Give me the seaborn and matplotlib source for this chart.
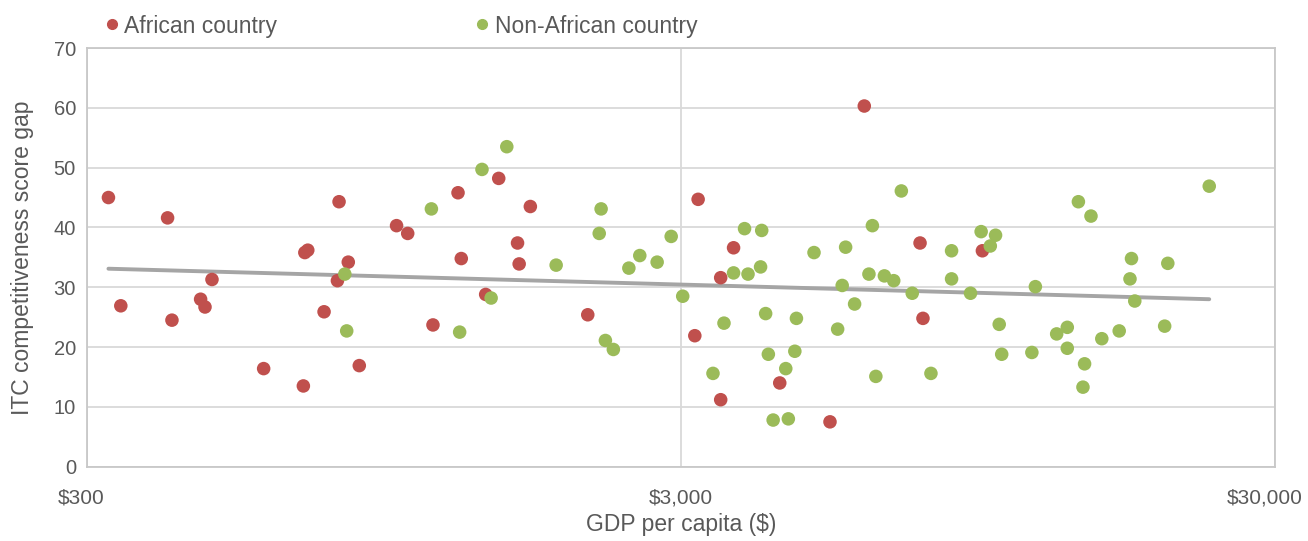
import matplotlib
matplotlib.use("Agg")
import matplotlib.pyplot as plt
from matplotlib.lines import Line2D
from matplotlib.ticker import NullLocator
from matplotlib.transforms import ScaledTranslation
import seaborn as sns
import pandas as pd

# African countries: GDP per capita ($) and ITC competitiveness score gap
africa_gdp = [326, 342, 410, 417, 466, 474, 487, 595, 694, 698, 706, 752, 792, 797,
              826, 862, 996, 1040, 1147, 1264, 1280, 1407, 1480, 1592, 1602, 1673,
              2090, 3165, 3206, 3499, 3499, 3678, 4399, 5345, 6105, 7578, 7664, 9650]
africa_gap = [45.0, 26.9, 41.6, 24.5, 28.0, 26.7, 31.3, 16.4, 13.5, 35.8, 36.2, 25.9, 31.1, 44.3,
              34.2, 16.9, 40.3, 39.0, 23.7, 45.8, 34.8, 28.8, 48.2, 37.4, 33.9, 43.5,
              25.4, 21.9, 44.7, 31.6, 11.2, 36.6, 14.0, 7.5, 60.3, 37.4, 24.8, 36.1]

# Non-African countries
other_gdp = [815, 821, 1140, 1272, 1387, 1437, 1527, 1849, 2185, 2201, 2238, 2308, 2451,
             2557, 2735, 2888, 3020, 3396, 3544, 3678, 3838, 3890, 4084, 4102, 4165, 4209,
             4288, 4503, 4548, 4664, 4693, 5024, 5506, 5604, 5679, 5880, 6216, 6300, 6385,
             6600, 6843, 7048, 7352, 7905, 8563, 8563, 9216, 9603, 9950, 10155, 10300,
             10400, 11690, 11850, 12870, 13410, 13410, 14000, 14250, 14340, 14700, 15330,
             16400, 17100, 17200, 17420, 19560, 19800, 23250]
other_gap = [32.2, 22.7, 43.1, 22.5, 49.7, 28.2, 53.5, 33.7, 39.0, 43.1, 21.1, 19.6, 33.2,
             35.3, 34.2, 38.5, 28.5, 15.6, 24.0, 32.4, 39.8, 32.2, 33.4, 39.5, 25.6, 18.8,
             7.8, 16.4, 8.0, 19.3, 24.8, 35.8, 23.0, 30.3, 36.7, 27.2, 32.2, 40.3, 15.1,
             31.9, 31.1, 46.1, 29.0, 15.6, 36.1, 31.4, 29.0, 39.3, 36.9, 38.7, 23.8,
             18.8, 19.1, 30.1, 22.2, 23.3, 19.8, 44.3, 13.3, 17.2, 41.9, 21.4,
             22.7, 31.4, 34.8, 27.7, 23.5, 34.0, 46.9]

# trend line (log fit) end points
trend_gdp = [326, 23250]
trend_gap = [33.1, 28.0]

groups = ["African country", "Non-African country"]
colors = {"African country": "#C0504D", "Non-African country": "#9BBB59"}
x_ticks = [300, 3000, 30000]
x_ticklabels = ["$300", "$3,000", "$30,000"]

df = pd.concat([
    pd.DataFrame({"gdp": africa_gdp, "gap": africa_gap, "group": groups[0]}),
    pd.DataFrame({"gdp": other_gdp, "gap": other_gap, "group": groups[1]}),
], ignore_index=True)

sns.set_theme(style="white")
plt.rcParams["font.family"] = ["Liberation Sans", "DejaVu Sans"]
txt = "#595959"

fig = plt.figure(figsize=(13.08, 5.41), dpi=100)
ax = fig.add_axes([87 / 1308, 1 - 466.7 / 541, (1275 - 87) / 1308, (466.7 - 48) / 541])

ax.plot(trend_gdp, trend_gap, color="#A5A5A5", lw=2.8, zorder=2)
sns.scatterplot(data=df, x="gdp", y="gap", hue="group", palette=colors,
                s=95, linewidth=0, ax=ax, legend=False, zorder=3)

ax.set_xscale("log")
ax.set_xlim(300, 30000)
ax.set_ylim(0, 70)
ax.set_xticks(x_ticks)
ax.set_xticklabels(x_ticklabels)
ax.xaxis.set_minor_locator(NullLocator())
ax.set_yticks(range(0, 71, 10))
ax.tick_params(axis="x", length=0, pad=16, labelsize=15, colors=txt)
ax.tick_params(axis="y", length=0, pad=8, labelsize=14.5, colors=txt)
# keep the last x label inside the figure, as the original does
for lbl, dx in zip(ax.get_xticklabels(), [-6, 0, -10]):
    lbl.set_transform(lbl.get_transform() + ScaledTranslation(dx / 100, 0, fig.dpi_scale_trans))
ax.grid(True, color="#D9D9D9", lw=1.3)
ax.set_axisbelow(True)
for sp in ax.spines.values():
    sp.set_color("#C8C8C8")
    sp.set_linewidth(1.3)

ax.set_xlabel("GDP per capita ($)", fontsize=16.5, color=txt, labelpad=4)
ax.set_ylabel("ITC competitiveness score gap", fontsize=16.5, color=txt, labelpad=14)

handles = [Line2D([], [], marker="o", ls="", color=colors[g], markersize=7) for g in groups]
fig.legend(handles, groups, loc="center left", bbox_to_anchor=(106 / 1308, 1 - 26 / 541),
           ncol=2, frameon=False, fontsize=16.5, handlelength=0.5, handletextpad=0.3,
           columnspacing=8.7, borderpad=0, borderaxespad=0, labelcolor=txt)

fig.savefig("out.png", dpi=100)
